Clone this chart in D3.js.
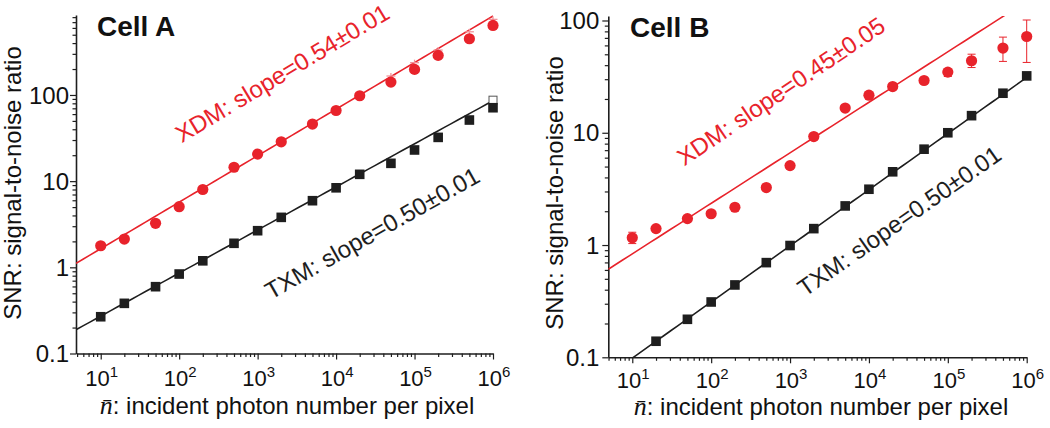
<!DOCTYPE html>
<html><head><meta charset="utf-8">
<script src="https://cdn.jsdelivr.net/npm/d3@7"></script>
<style>
body{margin:0;background:#fff}
svg{display:block}
text{font-family:"Liberation Sans",Arial,Helvetica,sans-serif;fill:#111}
</style>
</head><body>
<svg id="chart" width="1050" height="428"></svg>
<script>
// ---------------- data ----------------
const photonNumbers = [10,20,50,100,200,500,1e3,2e3,5e3,1e4,2e4,5e4,1e5,2e5,5e5,1e6];

const cellA_XDM = [1.78,2.13,3.24,5.05,8.0,14.5,20.6,28.6,46,66,98,141,198,288,449,641];
const cellA_TXM = [0.267,0.382,0.596,0.836,1.19,1.90,2.66,3.80,5.93,8.37,12.0,16.1,23.0,32.2,51.2,71.1];
const cellA_XDM_errX = [5e4,1e5,2e5,5e5,1e6];
const cellA_XDM_errUpper = [166,237,332,541,754];
const cellA_TXM_openX = [1e6];
const cellA_TXM_open = [87];

const cellB_XDM = [1.16,1.40,1.72,1.9,2.17,3.25,5.1,9.25,16.6,21.6,25.8,29.2,34.7,43.8,56.8,72];
const cellB_XDM_low  = [1.03,1.36,1.66,1.85,2.12,3.18,5.0,9.1,16.3,21.2,25.2,27.6,31.7,38.1,43.2,42.3];
const cellB_XDM_high = [1.30,1.44,1.78,1.95,2.22,3.32,5.2,9.4,16.9,22.0,26.4,31.0,36.9,50.1,71.1,101];
const cellB_TXM = [null,0.139,0.218,0.311,0.441,0.697,0.99,1.40,2.23,3.14,4.49,7.14,10.0,14.2,22.5,32.1];

// fitted power laws SNR = a * n^b
const fitA_XDM = [0.474, 0.54];
const fitA_TXM = [0.0858, 0.50];
const fitB_XDM = [0.296, 0.45];
const fitB_TXM = [0.0311, 0.50];

const panelTitles = ["Cell A", "Cell B"];
const xTickExponents = [1,2,3,4,5,6];
const yTickValues = [0.1, 1, 10, 100];
const yTickLabels = ["0.1", "1", "10", "100"];
const xAxisTitle = ": incident photon number per pixel";
const yAxisTitle = "SNR: signal-to-noise ratio";
const annotA = ["XDM: slope=0.54\u00b10.01", "TXM: slope=0.50\u00b10.01"];
const annotB = ["XDM: slope=0.45\u00b10.05", "TXM: slope=0.50\u00b10.01"];
// annotation anchor points in data space [n, SNR]
const annotPosA = [[10**2.032, 10**1.439], [10**3.17, 10**-0.379]];
const annotPosB = [[10**1.659, 10**0.699], [10**3.189, 10**-0.465]];

// ---------------- drawing ----------------
const RED = "#e8232b", PINK = "#f3939a", BLACK = "#1e1e1e";
const svg = d3.select("#chart");

function drawPanel(o){
  const g = svg.append("g");
  const x = d3.scaleLog().domain(o.xDomain).range(o.xRange);
  const y = d3.scaleLog().domain(o.yDomain).range(o.yRange);
  const id = "clip" + o.key;
  svg.append("clipPath").attr("id", id).append("rect")
    .attr("x", o.xRange[0]).attr("y", o.yRange[1])
    .attr("width", o.xRange[1]-o.xRange[0]).attr("height", o.yRange[0]-o.yRange[1]);

  // minor / major ticks
  const minorX = [], minorY = [];
  for (let e = -1; e <= 6; e++) for (let k = 2; k <= 9; k++) {
    const v = k * 10**e;
    if (v >= o.xDomain[0] && v <= o.xDomain[1]) minorX.push(v);
    if (v >= o.yDomain[0] && v <= o.yDomain[1]) minorY.push(v);
  }
  const majorX = xTickExponents.map(e => 10**e);

  g.append("g").attr("transform", `translate(0,${o.yRange[0]})`)
    .call(d3.axisBottom(x).tickValues(minorX).tickSize(3.5).tickSizeOuter(0).tickFormat(""));
  const xMaj = g.append("g").attr("transform", `translate(0,${o.yRange[0]})`)
    .call(d3.axisBottom(x).tickValues(majorX).tickSize(6).tickSizeOuter(0).tickFormat(""));
  xMaj.select(".domain").remove();

  g.append("g").attr("transform", `translate(${o.xRange[0]},0)`)
    .call(d3.axisLeft(y).tickValues(minorY).tickSize(3.5).tickSizeOuter(0).tickFormat(""));
  const yMaj = g.append("g").attr("transform", `translate(${o.xRange[0]},0)`)
    .call(d3.axisLeft(y).tickValues(yTickValues).tickSize(6).tickSizeOuter(0).tickFormat(""));
  yMaj.select(".domain").remove();

  g.selectAll(".domain").attr("stroke", BLACK).attr("stroke-width", 1.6);
  g.selectAll(".tick line").attr("stroke", BLACK).attr("stroke-width", 1.2);

  // x tick labels 10^n
  majorX.forEach((v, i) => {
    const t = g.append("text").attr("x", x(v) + 1).attr("y", o.xTickBaseline)
      .attr("text-anchor", "middle").attr("font-size", 22);
    t.append("tspan").text("10");
    t.append("tspan").attr("dy", -9).attr("font-size", 15).text(xTickExponents[i]);
  });
  // y tick labels
  yTickValues.forEach((v, i) => {
    g.append("text").attr("x", o.xRange[0] - o.yLabelGap).attr("y", y(v)).attr("dy", "0.36em")
      .attr("text-anchor", "end").attr("font-size", 24).text(yTickLabels[i]);
  });

  // axis titles
  const xt = g.append("text").attr("x", o.xTitle[0]).attr("y", o.xTitle[1])
    .attr("text-anchor", "middle").attr("font-size", 24);
  xt.append("tspan").attr("font-family", "'Liberation Serif','DejaVu Serif',serif")
    .attr("font-style", "italic").attr("font-size", 26).text("n\u0304");
  xt.append("tspan").text(xAxisTitle);
  g.append("text").attr("transform", `translate(${o.yTitle[0]},${o.yTitle[1]}) rotate(-90)`)
    .attr("text-anchor", "middle").attr("font-size", 24).text(yAxisTitle);

  // panel title
  g.append("text").attr("x", o.title[0]).attr("y", o.title[1])
    .attr("font-size", 28).attr("font-weight", "bold").text(o.titleText);

  const plot = g.append("g").attr("clip-path", `url(#${id})`);
  const marks = g.append("g");
  // fit lines
  function fitLine(fit, color){
    const pts = d3.range(0, 61).map(i => {
      const lx = Math.log10(o.xDomain[0]) + (Math.log10(o.xDomain[1]) - Math.log10(o.xDomain[0])) * i / 60;
      const n = 10**lx;
      return [n, fit[0] * Math.pow(n, fit[1])];
    });
    plot.append("path").attr("fill", "none").attr("stroke", color).attr("stroke-width", 1.6)
      .attr("d", d3.line().x(d => x(d[0])).y(d => y(d[1]))(pts));
  }
  fitLine(o.fitTXM, BLACK);
  fitLine(o.fitXDM, RED);

  // error bars
  if (o.errLow) {
    photonNumbers.forEach((n, i) => {
      const x0 = x(n), yl = y(o.errLow[i]), yh = y(o.errHigh[i]);
      marks.append("line").attr("x1", x0).attr("x2", x0).attr("y1", yl).attr("y2", yh)
        .attr("stroke", RED).attr("stroke-width", 1);
      [yl, yh].forEach(yy => marks.append("line").attr("x1", x0-4).attr("x2", x0+4)
        .attr("y1", yy).attr("y2", yy).attr("stroke", RED).attr("stroke-width", 1));
    });
  }
  if (o.upX) {
    o.upX.forEach((n, i) => {
      const x0 = x(n), yc = y(o.xdm[photonNumbers.indexOf(n)]), yh = y(o.upV[i]);
      marks.append("line").attr("x1", x0).attr("x2", x0).attr("y1", yc).attr("y2", yh - 3)
        .attr("stroke", PINK).attr("stroke-width", 1.3);
      marks.append("line").attr("x1", x0-4.5).attr("x2", x0+4.5).attr("y1", yh).attr("y2", yh)
        .attr("stroke", PINK).attr("stroke-width", 1.3);
    });
  }
  // open squares
  if (o.openX) {
    o.openX.forEach((n, i) => {
      marks.append("rect").attr("x", x(n)-4).attr("y", y(o.openV[i])-4).attr("width", 8).attr("height", 8)
        .attr("fill", "#fff").attr("stroke", "#555").attr("stroke-width", 1);
    });
  }
  // markers
  photonNumbers.forEach((n, i) => {
    const v = o.txm[i];
    if (v == null) return;
    marks.append("rect").attr("x", x(n)-4.8).attr("y", y(v)-4.8).attr("width", 9.6).attr("height", 9.6)
      .attr("fill", BLACK);
  });
  photonNumbers.forEach((n, i) => {
    marks.append("circle").attr("cx", x(n)).attr("cy", y(o.xdm[i])).attr("r", 5.6).attr("fill", RED);
  });

  // annotations
  o.annot.forEach((txt, i) => {
    const p = o.annotPos[i];
    g.append("text").attr("transform", `translate(${x(p[0])},${y(p[1])}) rotate(${-o.annotAngle[i]})`)
      .attr("font-size", 24).style("fill", i === 0 ? RED : BLACK).text(txt);
  });
}

drawPanel({
  key: "A", titleText: panelTitles[0], title: [97, 36],
  xDomain: [10**0.685, 1e6], xRange: [76, 493],
  yDomain: [0.1, 10**2.928], yRange: [353.5, 15],
  xTickBaseline: 386, yLabelGap: 7,
  xTitle: [287, 414], yTitle: [21, 183],
  xdm: cellA_XDM, txm: cellA_TXM, fitXDM: fitA_XDM, fitTXM: fitA_TXM,
  upX: cellA_XDM_errX, upV: cellA_XDM_errUpper,
  openX: cellA_TXM_openX, openV: cellA_TXM_open,
  annot: annotA, annotPos: annotPosA, annotAngle: [31, 29.5]
});
drawPanel({
  key: "B", titleText: panelTitles[1], title: [630, 37],
  xDomain: [10**0.696, 1e6], xRange: [608.3, 1026.7],
  yDomain: [0.1, 10**2.04], yRange: [357.3, 16],
  xTickBaseline: 388, yLabelGap: 9,
  xTitle: [821, 415], yTitle: [563, 193],
  xdm: cellB_XDM, txm: cellB_TXM, fitXDM: fitB_XDM, fitTXM: fitB_TXM,
  errLow: cellB_XDM_low, errHigh: cellB_XDM_high,
  annot: annotB, annotPos: annotPosB, annotAngle: [34, 35]
});
</script>
</body></html>
